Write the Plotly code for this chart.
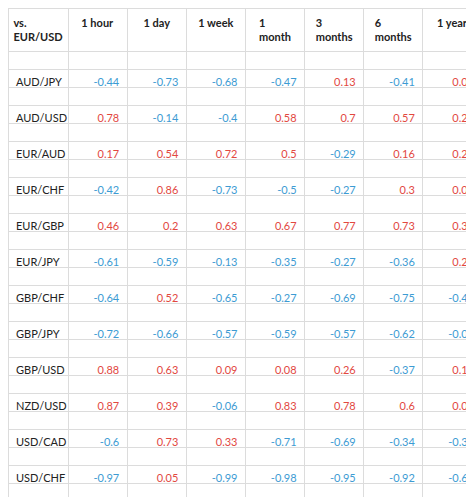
import plotly.graph_objects as go

pairs = ["AUD/JPY","AUD/USD","EUR/AUD","EUR/CHF","EUR/GBP","EUR/JPY","GBP/CHF","GBP/JPY","GBP/USD","NZD/USD","USD/CAD","USD/CHF","USD/JPY"]
periods = ["1 hour","1 day","1 week","1 month","3 months","6 months","1 year"]
h1  = [-0.44,0.78,0.17,-0.42,0.46,-0.61,-0.64,-0.72,0.88,0.87,-0.6,-0.97,-0.96]
d1  = [-0.73,-0.14,0.54,0.86,0.2,-0.59,0.52,-0.66,0.63,0.39,0.73,0.05,-0.78]
w1  = [-0.68,-0.4,0.72,-0.73,0.63,-0.13,-0.65,-0.57,0.09,-0.06,0.33,-0.99,-0.93]
m1  = [-0.47,0.58,0.5,-0.5,0.67,-0.35,-0.27,-0.59,0.08,0.83,-0.71,-0.98,-0.76]
m3  = [0.13,0.7,-0.29,-0.27,0.77,-0.27,-0.69,-0.57,0.26,0.78,-0.69,-0.95,-0.78]
m6  = [-0.41,0.57,0.16,0.3,0.73,-0.36,-0.75,-0.62,-0.37,0.6,-0.34,-0.92,-0.77]
y1  = [0.01,0.27,0.23,0.05,0.36,0.27,-0.41,-0.07,0.15,0.06,-0.32,-0.66,-0.31]
cols = [h1,d1,w1,m1,m3,m6,y1]

RED, BLUE = "#e2483f", "#3d9bd3"

first = []
for p in pairs:
    first += ["", p]
values = [first]
colors = [["#222"]*len(first)]
for c in cols:
    v, col = [], []
    for x in c:
        v += ["", f"{x:g}"]
        col += ["#222", RED if x >= 0 else BLUE]
    values.append(v)
    colors.append(col)

fig = go.Figure(go.Table(
    domain=dict(x=[0, 1], y=[0, 1]),
    columnwidth=[60] + [59]*7,
    header=dict(values=["<b>vs.<br>EUR/USD</b>"] + [f"<b>{p}</b>" for p in periods],
                align="center", height=36, fill_color="white",
                line_color="#dcdcdc", font=dict(family="Lato", size=11, color="#222")),
    cells=dict(values=values, height=18, fill_color="white", line_color="#dcdcdc",
               align=["left"] + ["right"]*7,
               font=dict(family="Lato", size=11, color=colors)),
))
fig.update_layout(width=474, height=497, margin=dict(l=0, r=0, t=0, b=0),
                  paper_bgcolor="white")
fig.write_html("out.html")
